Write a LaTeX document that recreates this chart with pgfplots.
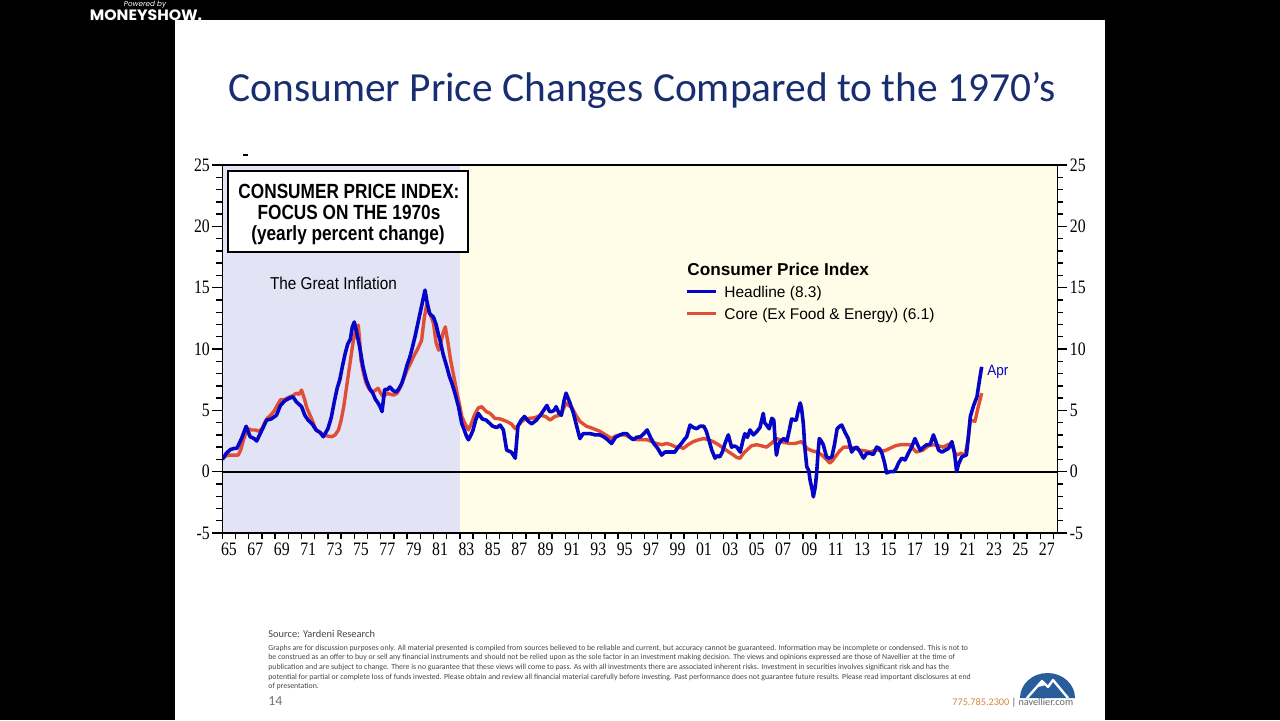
\documentclass[border=0pt]{standalone}
\usepackage{pgfplots}
\pgfplotsset{compat=1.18}
\usepackage{fontspec}
\setmainfont{Liberation Serif}
\newfontfamily\arial{Liberation Sans}
\newfontfamily\carlito{Carlito}
\newfontfamily\pop{Poppins}
\definecolor{titleblue}{RGB}{24,46,112}
\definecolor{lineblue}{RGB}{5,5,200}
\definecolor{linered}{RGB}{224,78,56}
\definecolor{lav}{RGB}{226,228,246}
\definecolor{yel}{RGB}{255,253,231}
\definecolor{navblue}{RGB}{40,92,155}
\definecolor{phone}{RGB}{212,136,60}
\definecolor{foot}{RGB}{70,70,70}
\pgfplotsset{
  cpiaxis/.style={
    at={(111.2pt,93.5pt)}, anchor=south west,
    width=417.5pt, height=184pt, scale only axis,
    xmin=1965, xmax=2028.3, ymin=-5, ymax=25,
    axis line style={line width=0.9pt},
    tick align=outside,
    ytick={-5,0,5,10,15,20,25},
    yticklabels={-5,0,5,10,15,20,25},
    minor ytick={-4,-3,...,24},
    major tick length=5pt, minor tick length=3pt,
    every tick/.style={black,line width=0.7pt},
    tick label style={font=\fontsize{9.5}{9.5}\selectfont, xscale=0.83},
    /pgf/number format/assume math mode=true,
  }
}
\begin{document}
\begin{tikzpicture}
\begin{scope}[x=0.5pt,y=0.5pt]
\path[use as bounding box] (0,0) rectangle (1280,720);
\fill[black] (0,0) rectangle (1280,720);
\fill[white] (175,0) rectangle (1105,700);
\node[white,font=\pop\itshape\fontsize{3.6}{4}\selectfont, anchor=base, inner sep=0pt] at (145,714) {Powered by};
\node[white,font=\pop\bfseries\fontsize{7.5}{8}\selectfont, anchor=base, xscale=1.05, inner sep=0pt] at (146,699.5) {MONEYSHOW.};
\node[titleblue,font=\carlito\fontsize{20.7}{22}\selectfont, anchor=base, inner sep=0pt] at (642,619) {Consumer Price Changes Compared to the 1970’s};
\end{scope}

\begin{axis}[cpiaxis,
    axis on top,
    ytick pos=left,
    yticklabel style={xshift=2pt},
    xtick={1965.5,1967.5,...,2027.5},
    xticklabels={65,67,69,71,73,75,77,79,81,83,85,87,89,91,93,95,97,99,01,03,05,07,09,11,13,15,17,19,21,23,25,27},
    xticklabel style={yshift=3.5pt},
    xtick pos=bottom,
    major x tick style={draw=none},
    minor xtick={1965,1966,...,2028},
    clip=true]
\fill[lav] (axis cs:1965,-5) rectangle (axis cs:1983.0,25);
\fill[yel] (axis cs:1983.0,-5) rectangle (axis cs:2028.3,25);
\draw[line width=0.9pt] (axis cs:1965,0) -- (axis cs:2028.3,0);
% Core (ex food & energy)
\addplot[linered, line width=1.7pt, line join=round] coordinates {
(1965.0,1.1)(1965.3,1.3)(1965.6,1.35)(1965.9,1.35)(1966.2,1.35)(1966.4,1.8)(1966.6,2.6)(1966.8,3.2)(1966.95,3.5)
(1967.2,3.4)(1967.5,3.4)(1967.75,3.3)(1968.0,3.5)(1968.2,4.0)(1968.4,4.35)(1968.65,4.6)(1968.9,4.9)
(1969.15,5.4)(1969.4,5.85)(1969.75,5.9)(1970.1,6.1)(1970.35,6.2)(1970.6,6.4)(1970.8,6.3)(1971.0,6.65)
(1971.2,6.0)(1971.4,5.2)(1971.75,4.35)(1972.1,3.4)(1972.4,3.2)(1972.65,3.0)(1973.0,2.9)(1973.3,2.85)
(1973.55,3.0)(1973.8,3.4)(1974.0,4.2)(1974.2,5.3)(1974.4,6.8)(1974.6,8.3)(1974.75,9.4)(1974.9,10.5)
(1975.1,11.5)(1975.3,11.95)(1975.4,10.8)(1975.5,9.1)(1975.7,8.0)(1975.9,7.2)(1976.1,6.8)(1976.3,6.5)
(1976.55,6.6)(1976.8,6.8)(1977.0,6.4)(1977.2,6.1)(1977.5,6.4)(1977.75,6.3)(1978.0,6.25)(1978.25,6.4)
(1978.5,6.9)(1978.75,7.6)(1979.0,8.3)(1979.25,8.8)(1979.5,9.4)(1979.8,10.0)(1980.1,10.7)(1980.3,12.5)
(1980.5,13.7)(1980.7,13.0)(1981.0,12.1)(1981.2,10.5)(1981.4,9.9)(1981.55,10.5)(1981.75,11.4)(1981.9,11.8)
(1982.1,10.5)(1982.3,9.1)(1982.5,8.0)(1982.75,6.6)(1982.95,5.6)(1983.15,4.5)(1983.4,3.9)(1983.65,3.4)
(1983.9,4.0)(1984.1,4.6)(1984.4,5.2)(1984.65,5.3)(1985.0,4.9)(1985.3,4.75)(1985.65,4.35)(1986.05,4.3)
(1986.55,4.1)(1986.9,3.9)(1987.2,3.5)(1987.45,3.8)(1987.7,4.1)(1988.0,4.3)(1988.3,4.35)(1988.7,4.4)
(1989.1,4.6)(1989.5,4.5)(1989.85,4.2)(1990.2,4.5)(1990.6,4.6)(1990.85,5.1)(1991.05,5.6)(1991.25,5.4)
(1991.5,5.2)(1991.8,4.6)(1992.1,4.1)(1992.35,3.9)(1992.6,3.7)(1992.9,3.6)(1993.25,3.45)(1993.6,3.3)
(1993.9,3.1)(1994.2,2.9)(1994.5,2.7)(1994.8,2.9)(1995.15,3.0)(1995.5,3.0)(1995.8,2.85)(1996.1,2.7)
(1996.4,2.6)(1996.8,2.6)(1997.2,2.6)(1997.55,2.45)(1997.9,2.3)(1998.3,2.2)(1998.7,2.3)(1999.0,2.2)
(1999.4,2.0)(1999.7,2.0)(1999.95,1.9)(2000.3,2.2)(2000.7,2.45)(2001.1,2.6)(2001.5,2.7)(2001.85,2.6)
(2002.2,2.45)(2002.6,2.2)(2003.0,1.9)(2003.4,1.6)(2003.75,1.35)(2004.0,1.15)(2004.25,1.1)(2004.5,1.5)
(2004.75,1.75)(2005.1,2.1)(2005.5,2.2)(2005.9,2.1)(2006.25,2.0)(2006.6,2.3)(2007.0,2.7)(2007.27,2.6)
(2007.5,2.4)(2008.0,2.3)(2008.4,2.3)(2008.9,2.45)(2009.1,2.2)(2009.3,1.9)(2009.7,1.7)(2010.05,1.6)
(2010.4,1.4)(2010.7,1.1)(2011.05,0.7)(2011.25,0.9)(2011.45,1.2)(2011.8,1.7)(2012.1,2.0)(2012.6,2.0)
(2012.95,1.9)(2013.35,1.75)(2013.7,1.7)(2014.1,1.6)(2014.5,1.75)(2014.85,1.75)(2015.2,1.7)(2015.6,1.9)
(2016.0,2.1)(2016.4,2.2)(2016.8,2.2)(2017.1,2.2)(2017.35,1.9)(2017.6,1.6)(2018.1,1.75)(2018.5,2.1)
(2018.9,2.2)(2019.3,2.1)(2019.65,2.0)(2020.0,2.2)(2020.3,2.3)(2020.5,1.6)(2020.66,1.35)(2021.0,1.5)
(2021.3,1.35)(2021.5,2.5)(2021.7,4.2)(2022.05,4.1)(2022.3,5.3)(2022.56,6.4)
};
% Headline
\addplot[lineblue, line width=1.8pt, line join=round] coordinates {
(1965.0,1.0)(1965.3,1.5)(1965.6,1.8)(1965.9,1.9)(1966.1,1.9)(1966.45,2.7)(1966.8,3.7)(1967.1,2.85)
(1967.4,2.7)(1967.6,2.5)(1968.0,3.4)(1968.35,4.2)(1968.7,4.3)(1969.1,4.6)(1969.4,5.4)(1969.75,5.8)
(1970.1,6.0)(1970.35,6.1)(1970.6,5.7)(1971.0,5.3)(1971.25,4.6)(1971.5,4.2)(1971.8,3.9)(1972.1,3.4)
(1972.4,3.2)(1972.65,2.85)(1973.0,3.5)(1973.25,4.4)(1973.5,5.8)(1973.7,6.8)(1973.9,7.5)(1974.1,8.6)
(1974.3,9.6)(1974.5,10.4)(1974.7,10.8)(1974.85,11.8)(1975.0,12.2)(1975.15,11.5)(1975.4,10.2)(1975.65,8.6)
(1975.9,7.5)(1976.15,6.8)(1976.4,6.4)(1976.6,5.9)(1976.8,5.6)(1977.0,5.2)(1977.1,4.9)(1977.3,6.7)
(1977.5,6.7)(1977.7,6.9)(1977.95,6.6)(1978.2,6.5)(1978.4,6.8)(1978.6,7.2)(1978.8,7.9)(1979.0,8.7)
(1979.2,9.3)(1979.35,9.9)(1979.6,11.0)(1979.8,12.0)(1980.0,13.0)(1980.2,14.0)(1980.36,14.8)(1980.5,13.9)
(1980.7,12.9)(1980.9,12.7)(1981.0,12.6)(1981.2,12.0)(1981.35,11.3)(1981.5,10.7)(1981.75,9.5)(1982.0,8.6)
(1982.2,7.8)(1982.4,7.2)(1982.6,6.5)(1982.9,5.3)(1983.15,3.9)(1983.3,3.5)(1983.5,2.9)(1983.65,2.6)
(1983.85,3.0)(1984.0,3.4)(1984.2,4.2)(1984.4,4.75)(1984.7,4.3)(1985.0,4.2)(1985.3,3.9)(1985.5,3.7)
(1985.8,3.6)(1986.05,3.8)(1986.3,3.4)(1986.55,1.75)(1986.9,1.6)(1987.2,1.1)(1987.4,3.7)(1987.65,4.2)
(1987.9,4.5)(1988.2,4.1)(1988.45,3.9)(1988.8,4.2)(1989.1,4.6)(1989.35,5.0)(1989.6,5.4)(1989.8,4.9)
(1989.96,4.9)(1990.15,5.0)(1990.3,5.3)(1990.5,4.8)(1990.7,4.6)(1990.9,5.8)(1991.05,6.4)(1991.2,6.0)
(1991.35,5.6)(1991.6,4.8)(1991.86,3.7)(1992.1,2.7)(1992.35,3.1)(1992.6,3.1)(1992.9,3.1)(1993.25,3.0)
(1993.6,3.0)(1993.9,2.85)(1994.2,2.6)(1994.5,2.3)(1994.8,2.8)(1995.15,3.0)(1995.4,3.1)(1995.65,3.1)
(1995.9,2.8)(1996.15,2.6)(1996.4,2.8)(1996.7,2.85)(1996.95,3.1)(1997.2,3.4)(1997.45,2.8)(1997.7,2.3)
(1998.0,1.9)(1998.3,1.35)(1998.55,1.6)(1998.8,1.6)(1999.05,1.6)(1999.3,1.6)(1999.55,2.0)(1999.8,2.3)
(2000.0,2.6)(2000.2,2.85)(2000.45,3.8)(2000.7,3.6)(2000.95,3.5)(2001.2,3.7)(2001.5,3.7)(2001.7,3.25)
(2001.9,2.5)(2002.1,1.75)(2002.35,1.1)(2002.5,1.3)(2002.7,1.2)(2002.9,1.6)(2003.1,2.3)(2003.35,3.0)
(2003.6,2.0)(2003.8,2.1)(2004.0,2.0)(2004.25,1.6)(2004.45,2.5)(2004.6,3.1)(2004.8,2.8)(2005.0,3.4)
(2005.25,3.0)(2005.5,3.25)(2005.75,3.6)(2006.0,4.75)(2006.1,4.0)(2006.25,3.8)(2006.45,3.5)(2006.65,4.35)
(2006.8,4.2)(2006.9,2.6)(2007.0,1.35)(2007.15,2.2)(2007.3,2.45)(2007.55,2.7)(2007.8,2.5)(2008.0,3.5)
(2008.15,4.3)(2008.4,4.2)(2008.5,4.2)(2008.65,5.0)(2008.8,5.6)(2008.9,5.2)(2009.04,3.9)(2009.15,2.0)
(2009.3,0.4)(2009.45,0.1)(2009.55,-0.7)(2009.7,-1.4)(2009.8,-2.05)(2009.95,-1.2)(2010.05,-0.1)(2010.15,1.5)
(2010.25,2.7)(2010.4,2.5)(2010.55,2.2)(2010.8,1.2)(2011.0,1.1)(2011.2,1.2)(2011.4,2.2)(2011.6,3.5)
(2011.8,3.7)(2011.95,3.8)(2012.2,3.2)(2012.45,2.7)(2012.7,1.6)(2012.9,1.9)(2013.1,2.0)(2013.35,1.6)
(2013.6,1.1)(2013.85,1.5)(2014.1,1.5)(2014.35,1.4)(2014.6,2.0)(2014.8,1.9)(2015.0,1.5)(2015.2,0.7)
(2015.35,-0.1)(2015.6,0.0)(2015.9,0.0)(2016.1,0.3)(2016.25,0.7)(2016.5,1.1)(2016.75,0.95)(2017.0,1.5)
(2017.25,2.0)(2017.5,2.7)(2017.7,2.2)(2017.9,1.75)(2018.15,2.0)(2018.4,2.2)(2018.65,2.2)(2018.9,3.0)
(2019.1,2.4)(2019.3,1.75)(2019.55,1.6)(2019.8,1.75)(2020.05,1.9)(2020.3,2.45)(2020.5,1.5)(2020.66,0.0)
(2020.8,0.6)(2021.05,1.2)(2021.25,1.3)(2021.4,1.35)(2021.55,2.8)(2021.7,4.5)(2021.95,5.4)(2022.2,6.1)
(2022.4,7.5)(2022.56,8.55)
};
\end{axis}

\begin{axis}[cpiaxis,
    hide x axis,
    axis y line*=right,
    yticklabel pos=right,
    yticklabel style={xshift=-2pt}]
\end{axis}

\begin{scope}[x=0.5pt,y=0.5pt]
% tiny mark above axis
\draw[line width=0.6pt] (243,565) -- (248,565);
% title box
\draw[line width=1pt, fill=white] (228,549) rectangle (468,468);
\begin{scope}[font=\arial\bfseries\fontsize{10.25}{11}\selectfont]
\node[anchor=base, xscale=0.84] at (349,522) {CONSUMER PRICE INDEX:};
\node[anchor=base, xscale=0.84] at (349,501) {FOCUS ON THE 1970s};
\node[anchor=base, xscale=0.84] at (348,480) {(yearly percent change)};
\end{scope}
\node[anchor=base, font=\arial\fontsize{8.6}{9}\selectfont, xscale=0.89] at (333.5,431) {The Great Inflation};
% legend
\node[anchor=base west, inner sep=0pt, font=\arial\bfseries\fontsize{8.6}{9}\selectfont] at (687,445) {Consumer Price Index};
\draw[lineblue, line width=1.5pt] (687,429) -- (716,429);
\node[anchor=base west, inner sep=0pt, font=\arial\fontsize{7.75}{8}\selectfont] at (724,423) {Headline (8.3)};
\draw[linered, line width=1.5pt] (687,407) -- (716,407);
\node[anchor=base west, inner sep=0pt, font=\arial\fontsize{7.75}{8}\selectfont] at (724,401) {Core (Ex Food \& Energy) (6.1)};
\node[anchor=base west, inner sep=0pt, lineblue, font=\arial\fontsize{7.5}{8}\selectfont, xscale=0.9] at (987,344.5) {Apr};
% footer
\node[anchor=base west, inner sep=0pt, foot, font=\carlito\fontsize{5.2}{6}\selectfont] at (268,82.5) {Source: Yardeni Research};
\begin{scope}[font=\carlito\fontsize{3.9}{4}\selectfont]
\node[anchor=base west, inner sep=0pt, foot] at (268,70) {Graphs are for discussion purposes only. All material presented is compiled from sources believed to be reliable and current, but accuracy cannot be guaranteed. Information may be incomplete or condensed. This is not to};
\node[anchor=base west, inner sep=0pt, foot] at (268,60.3) {be construed as an offer to buy or sell any financial instruments and should not be relied upon as the sole factor in an investment making decision. The views and opinions expressed are those of Navellier at the time of};
\node[anchor=base west, inner sep=0pt, foot] at (268,50.6) {publication and are subject to change. There is no guarantee that these views will come to pass. As with all investments there are associated inherent risks. Investment in securities involves significant risk and has the};
\node[anchor=base west, inner sep=0pt, foot] at (268,40.9) {potential for partial or complete loss of funds invested. Please obtain and review all financial material carefully before investing. Past performance does not guarantee future results. Please read important disclosures at end};
\node[anchor=base west, inner sep=0pt, foot] at (268,31.2) {of presentation.};
\end{scope}
\node[anchor=base west, inner sep=0pt, black!55, font=\carlito\fontsize{6.9}{7}\selectfont] at (268,14.5) {14};
\node[anchor=base west, inner sep=0pt, font=\carlito\fontsize{5.1}{6}\selectfont] at (952,15) {\textcolor{phone}{775.785.2300} \textcolor{black!70}{|} \textcolor{black!60}{navellier.com}};
% logo
\fill[navblue] (1020,22) arc[start angle=180, end angle=0, x radius=27.5, y radius=25] -- cycle;
\draw[white, line width=1.2pt, line join=round] (1027,22) -- (1042,39) -- (1048,33) -- (1053,40) -- (1068,22);
\fill[white] (1038,33) -- (1042,39) -- (1046,35) -- cycle;
\end{scope}
\end{tikzpicture}
\end{document}
